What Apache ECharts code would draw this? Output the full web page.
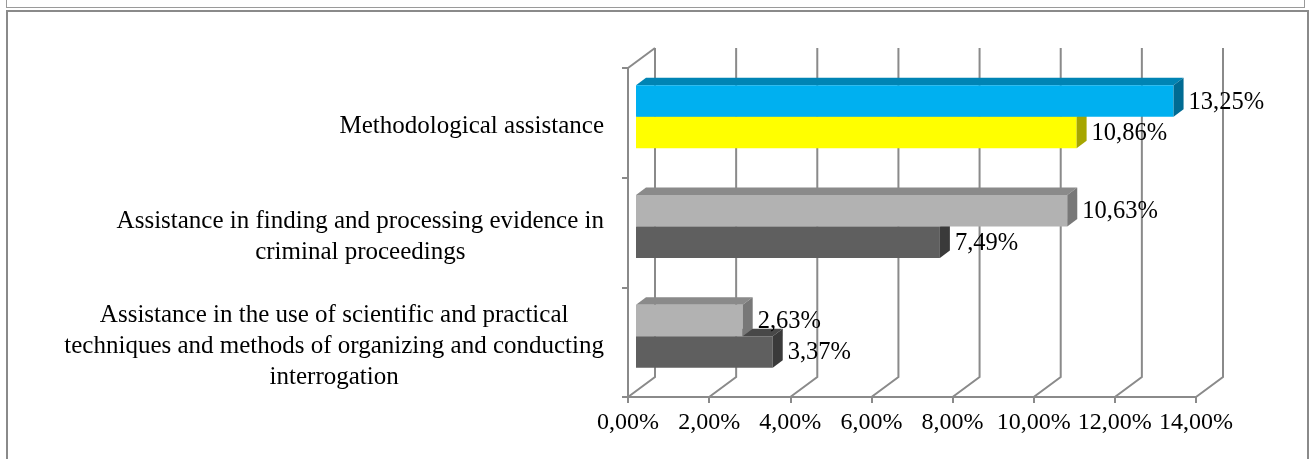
<!DOCTYPE html>
<html>
<head>
<meta charset="utf-8">
<script src="https://cdn.jsdelivr.net/npm/echarts@6/dist/echarts.min.js"></script>
<style>
  html, body { margin: 0; padding: 0; background: #fff; }
  #wrap { position: relative; width: 1313px; height: 459px; overflow: hidden; }
  #prev { position: absolute; left: 6px; top: -10px; width: 1297px; height: 17px; border: 1px solid #9a9a9a; border-top: none; }
  #frame { position: absolute; left: 6px; top: 10px; width: 1299px; height: 460px; border: 2px solid #8a8a8a; border-bottom: none; }
  #chart { position: absolute; left: 0; top: 0; width: 1313px; height: 459px; }
</style>
</head>
<body>
<div id="wrap">
  <div id="prev"></div>
  <div id="frame"></div>
  <div id="chart"></div>
</div>
<script>
(function () {
  var categories = [
    'Methodological assistance',
    'Assistance in finding and processing evidence in\ncriminal proceedings',
    'Assistance in the use of scientific and practical\ntechniques and methods of organizing and conducting\ninterrogation'
  ];
  var upperValues = [13.25, 10.63, 2.63];
  var lowerValues = [10.86, 7.49, 3.37];
  var xTicks = [0, 2, 4, 6, 8, 10, 12, 14];

  // face colours [front, top, side] per category
  var upperColors = [
    ['#00B0F0', '#0084B4', '#006B93'],
    ['#B2B2B2', '#8A8A8A', '#787878'],
    ['#B2B2B2', '#8A8A8A', '#787878']
  ];
  var lowerColors = [
    ['#FFFF00', '#BFBF00', '#A6A600'],
    ['#5F5F5F', '#484848', '#3A3A3A'],
    ['#5F5F5F', '#484848', '#3A3A3A']
  ];

  var font = '"Liberation Serif", "DejaVu Serif", serif';
  var gridColor = '#8a8a8a';
  var DX = 27, DY = 20;      // chart depth
  var BX = 8, BY = 6;        // bar offset into depth
  var bdx = 10, bdy = 7.5;   // bar thickness

  function pct(v) { return v.toFixed(2).replace('.', ',') + '%'; }

  function wallItem(params, api) {
    var cs = params.coordSys;
    var v = api.value(0);
    var x = api.coord([v, 0])[0];
    var bottom = cs.y + cs.height;
    var top = cs.y;
    var style = { stroke: gridColor, lineWidth: 2, fill: null };
    var children = [{
      type: 'polyline',
      shape: { points: [[x, bottom], [x + DX, bottom - DY], [x + DX, top - DY]] },
      style: style
    }];
    if (v === 0) {
      children.push({
        type: 'line',
        shape: { x1: x, y1: top, x2: x + DX, y2: top - DY },
        style: style
      });
    }
    return { type: 'group', children: children };
  }

  function barRenderer(isUpper, colors) {
    return function (params, api) {
      var i = api.value(1);
      var v = api.value(0);
      var band = api.size([0, 1])[1];
      var h = band * 0.287;
      var c = api.coord([0, i]);
      var x0 = c[0] + BX;
      var x1 = api.coord([v, i])[0] + BX;
      var yt = isUpper ? c[1] - BY - h : c[1] - BY;
      var col = colors[i];
      return {
        type: 'group',
        children: [
          { type: 'polygon', shape: { points: [[x0, yt], [x0 + bdx, yt - bdy], [x1 + bdx, yt - bdy], [x1, yt]] }, style: { fill: col[1] } },
          { type: 'rect', shape: { x: x0, y: yt, width: x1 - x0, height: h }, style: { fill: col[0] } },
          { type: 'polygon', shape: { points: [[x1, yt], [x1 + bdx, yt - bdy], [x1 + bdx, yt - bdy + h], [x1, yt + h]] }, style: { fill: col[2] } },
          { type: 'text', x: x1 + bdx + 5, y: yt + h / 2 + 1,
            style: { text: pct(v), fill: '#000', font: '24.5px ' + font, verticalAlign: 'middle', align: 'left' } }
        ]
      };
    };
  }

  var chart = echarts.init(document.getElementById('chart'), null, { renderer: 'canvas' });
  chart.setOption({
    animation: false,
    backgroundColor: 'transparent',
    grid: { left: 628, right: 117, top: 68, bottom: 62 },
    xAxis: {
      type: 'value',
      min: 0,
      max: 14,
      interval: 2,
      axisLine: { show: true, lineStyle: { color: gridColor, width: 2 } },
      axisTick: { show: true, length: 6, lineStyle: { color: gridColor, width: 2 } },
      splitLine: { show: false },
      axisLabel: { color: '#000', fontFamily: font, fontSize: 24, margin: 14, formatter: pct }
    },
    yAxis: {
      type: 'category',
      inverse: true,
      data: categories,
      axisLine: { show: true, lineStyle: { color: gridColor, width: 2 } },
      axisTick: { show: true, length: 6, lineStyle: { color: gridColor, width: 2 } },
      axisLabel: {
        margin: 24,
        padding: [8, 0, 0, 0],
        formatter: function (val) {
          return val.split('\n').map(function (l) { return '{c|' + l + '}'; }).join('\n');
        },
        rich: { c: { align: 'center', color: '#000', fontFamily: font, fontSize: 25, lineHeight: 31 } }
      }
    },
    series: [
      {
        type: 'custom',
        z: 1,
        renderItem: wallItem,
        encode: { x: 0 },
        data: xTicks.map(function (t) { return [t, 0]; })
      },
      {
        type: 'custom',
        z: 2,
        renderItem: barRenderer(false, lowerColors),
        encode: { x: 0, y: 1 },
        data: lowerValues.map(function (v, i) { return [v, i]; })
      },
      {
        type: 'custom',
        z: 3,
        renderItem: barRenderer(true, upperColors),
        encode: { x: 0, y: 1 },
        data: upperValues.map(function (v, i) { return [v, i]; })
      }
    ]
  });
  window.addEventListener('resize', function () { chart.resize(); });
})();
</script>
</body>
</html>
